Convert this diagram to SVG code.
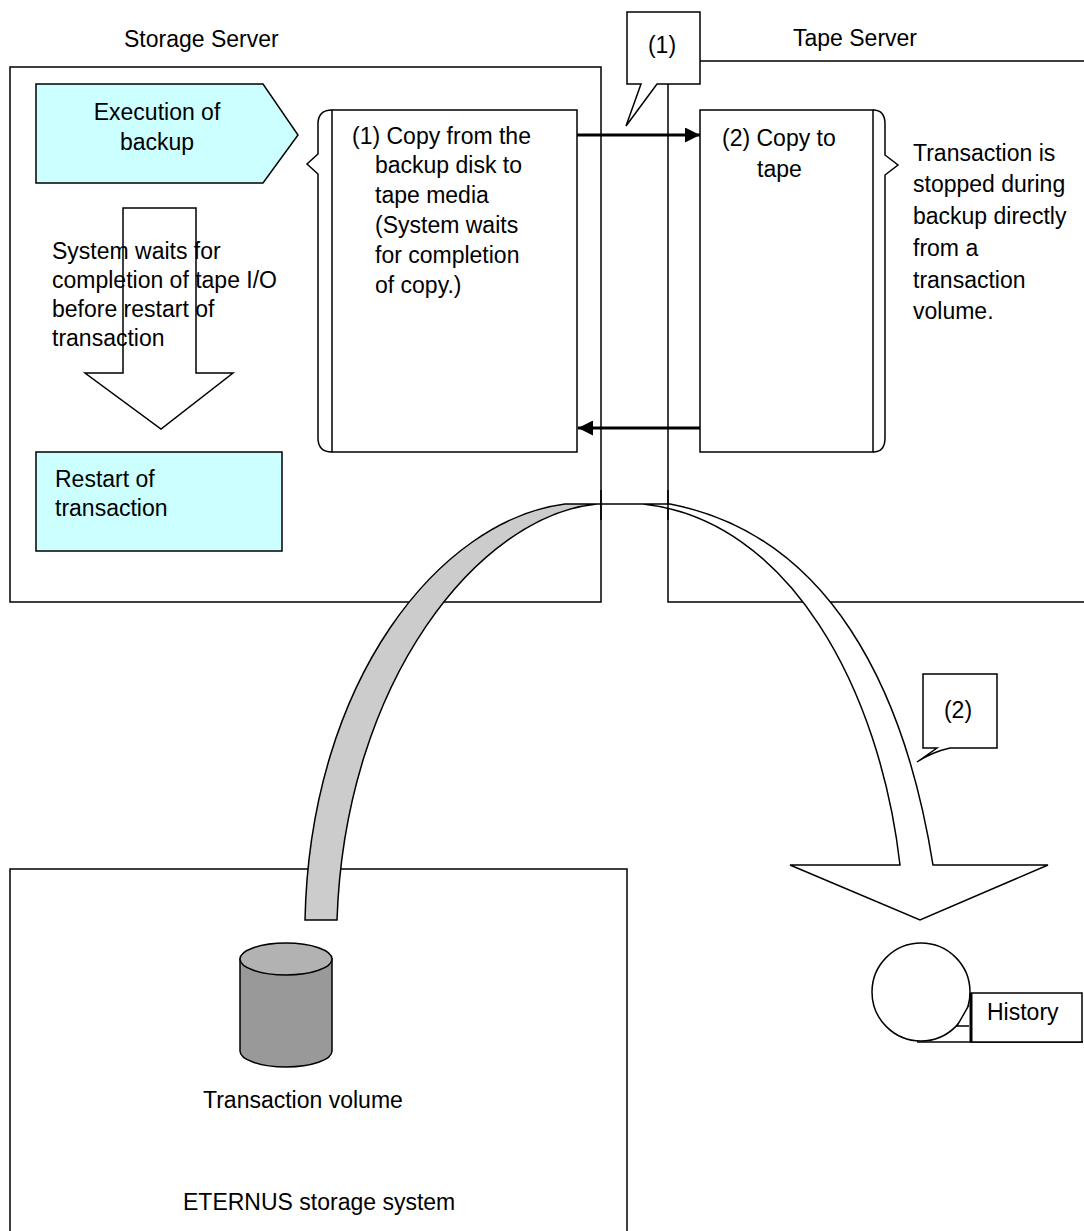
<svg xmlns="http://www.w3.org/2000/svg" width="1084" height="1231" viewBox="0 0 1084 1231">
<style>
text{font-family:"Liberation Sans",Arial,sans-serif;font-size:23px;fill:#000}
.ln{fill:none;stroke:#000;stroke-width:1.5}
.wf{fill:#fff;stroke:#000;stroke-width:1.5}
.cy{fill:#ccffff;stroke:#000;stroke-width:1.5}
.mid{text-anchor:middle}
</style>
<defs>
<marker id="ah" viewBox="0 0 10 10" refX="10" refY="5" markerWidth="5" markerHeight="5" orient="auto" markerUnits="strokeWidth">
<path d="M0,0 L10,5 L0,10 Z" fill="#000"/>
</marker>
</defs>
<rect width="1084" height="1231" fill="#fff"/>

<g id="storage-server">
<rect class="ln" x="10" y="67" width="591" height="535"/>
<text x="124" y="47">Storage Server</text>
</g>

<g id="tape-server">
<rect class="ln" x="668" y="61" width="430" height="541"/>
<text x="793" y="46">Tape Server</text>
</g>

<g id="eternus">
<rect class="ln" x="10" y="869" width="617" height="380"/>
<text x="183" y="1210">ETERNUS storage system</text>
</g>

<g id="execution-of-backup">
<path class="cy" d="M36,84 H263 L298,135 L263,183 H36 Z"/>
<text class="mid" x="157" y="120">Execution of</text>
<text class="mid" x="157" y="150">backup</text>
</g>

<g id="wait-arrow">
<path class="wf" d="M123,208 H196 V373 H233 L161,429 L85,373 H123 Z"/>
<text x="52" y="259">System waits for</text>
<text x="52" y="288">completion of tape I/O</text>
<text x="52" y="317">before restart of</text>
<text x="52" y="346">transaction</text>
</g>

<g id="restart">
<rect class="cy" x="36" y="452" width="246" height="99"/>
<text x="55" y="487">Restart of</text>
<text x="55" y="516">transaction</text>
</g>

<g id="copy-from-disk">
<rect class="wf" x="332" y="110" width="245" height="342"/>
<path class="ln" d="M332,110 Q318,110 318,124 V154 L307,164 L318,174 V438 Q318,452 332,452"/>
<text x="352" y="144">(1) Copy from the</text>
<text x="375" y="173">backup disk to</text>
<text x="375" y="203">tape media</text>
<text x="375" y="233">(System waits</text>
<text x="375" y="263">for completion</text>
<text x="375" y="293">of copy.)</text>
</g>

<g id="copy-to-tape">
<rect class="wf" x="700" y="110" width="173" height="342"/>
<path class="ln" d="M873,110 Q885,110 885,124 V155 L898,165 L885,175 V438 Q885,452 873,452"/>
<text x="722" y="146">(2) Copy to</text>
<text x="757" y="177">tape</text>
</g>

<g id="note-stopped">
<text x="913" y="161">Transaction is</text>
<text x="913" y="192">stopped during</text>
<text x="913" y="224">backup directly</text>
<text x="913" y="256">from a</text>
<text x="913" y="288">transaction</text>
<text x="913" y="319">volume.</text>
</g>

<g id="connectors">
<line x1="577" y1="135" x2="700" y2="135" stroke="#000" stroke-width="3" marker-end="url(#ah)"/>
<line x1="700" y1="428" x2="578" y2="428" stroke="#000" stroke-width="3" marker-end="url(#ah)"/>
<path d="M565,504 C440,520 310,680 305,920 L337,920 C345,680 480,515 597,504 Z" fill="#cccccc" stroke="#000" stroke-width="1.5"/>
<path d="M597,504 L670,504 C830,535 905,690 933,865 L1048,865 L920,920 L790,865 L900,865 C880,690 790,520 643,504 Z" fill="#fff" stroke="#000" stroke-width="1.5"/>
<line x1="601" y1="490" x2="601" y2="520" stroke="#000" stroke-width="1.5"/>
<line x1="668" y1="490" x2="668" y2="520" stroke="#000" stroke-width="1.5"/>
</g>

<g id="callout-1">
<path class="wf" d="M627,12 H700 V84 H657 L626,126 L641,84 H627 Z"/>
<text class="mid" x="662" y="53">(1)</text>
</g>

<g id="callout-2">
<path class="wf" d="M923,674 H997 V748 H950 Q932,752 917,762 L937,748 H923 Z"/>
<text class="mid" x="958" y="718">(2)</text>
</g>

<g id="transaction-volume">
<path d="M240,959 V1051 A46,16 0 0 0 332,1051 V959 Z" fill="#999999" stroke="#000" stroke-width="1.5"/>
<ellipse cx="286" cy="959" rx="46" ry="16" fill="#b2b2b2" stroke="#000" stroke-width="1.5"/>
<text x="203" y="1108">Transaction volume</text>
</g>

<g id="tape-history">
<circle cx="921" cy="992" r="49" fill="#fff" stroke="#000" stroke-width="1.5"/>
<line x1="917" y1="1042" x2="1083" y2="1042" stroke="#000" stroke-width="1.5"/>
<rect x="971" y="993" width="111" height="49" fill="#fff" stroke="#000" stroke-width="1.5"/>
<line x1="971" y1="993" x2="971" y2="1042" stroke="#000" stroke-width="3"/>
<path d="M969,1005 L957,1026 H969" fill="#fff" stroke="#000" stroke-width="1.5"/>
<text x="987" y="1020">History</text>
</g>
</svg>
